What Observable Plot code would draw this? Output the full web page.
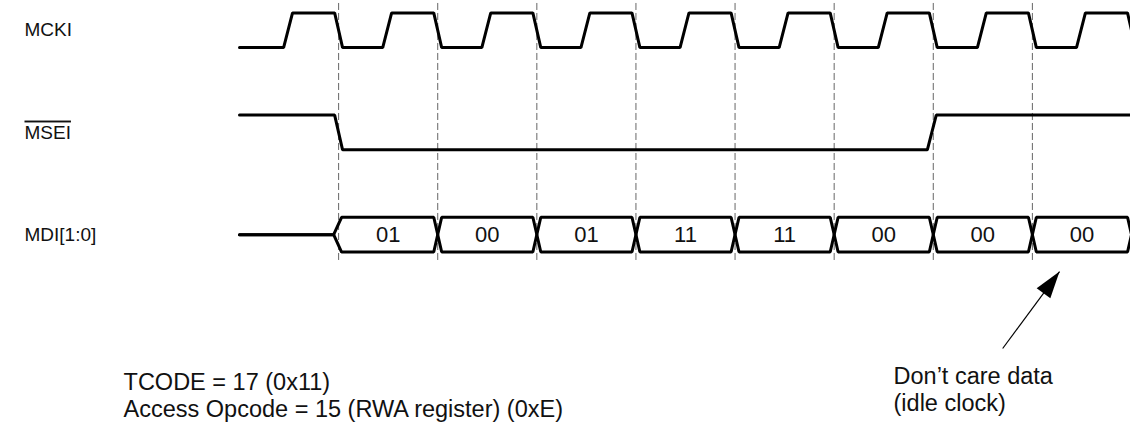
<!DOCTYPE html>
<html>
<head>
<meta charset="utf-8">
<script src="https://cdn.jsdelivr.net/npm/d3@7"></script>
<script src="https://cdn.jsdelivr.net/npm/@observablehq/plot@0.6"></script>
<style>
  html, body { margin: 0; padding: 0; background: #fff; }
  #chart svg { display: block; }
</style>
</head>
<body>
<div id="chart"></div>
<script>
// ---------- data (time in clock cycles, lanes by signal index) ----------
const signals = ["MCKI", "MSEI", "MDI[1:0]"];
const mckiRise = [0.49, 1.49, 2.49, 3.49, 4.49, 5.49, 6.49, 7.49, 8.49];
const mckiFall = [1, 2, 3, 4, 5, 6, 7, 8, 9];
const mseiFall = [1];
const mseiRise = [6.985];
const mdiStart = [1, 2, 3, 4, 5, 6, 7, 8];
const mdiValues = ["01", "00", "01", "11", "11", "00", "00", "00"];
const cycleMarks = [1, 2, 3, 4, 5, 6, 7, 8];
const notes = ["TCODE = 17 (0x11)", "Access Opcode = 15 (RWA register) (0xE)"];
const arrowNote = ["Don\u2019t care data", "(idle clock)"];
const arrowFrom = {t: 7.70, lane: 3.114};
const arrowTo = {t: 8.274, lane: 2.361};

// ---------- layout ----------
const W = 1130, H = 427;
const tMax = 9, xLeft = 239, xRight = 1131;
const laneTop = 29.75, laneStep = 102.2;
const amp = 0.17;           // half-height of a waveform, in lane units
const riseW = 0.09, fallW = 0.08, busW = 0.04;
const font = "'Liberation Sans', Arial, Helvetica, sans-serif";

function waveform(lane, startHigh, rises, falls) {
  const edges = [...rises.map(t => ({t, hi: true, w: riseW})),
                 ...falls.map(t => ({t, hi: false, w: fallW}))].sort((a, b) => a.t - b.t);
  const lvl = hi => lane + (hi ? -amp : amp);
  let hi = startHigh;
  const pts = [{t: 0, y: lvl(hi)}];
  for (const e of edges) {
    pts.push({t: e.t - e.w / 2, y: lvl(hi)});
    hi = e.hi;
    pts.push({t: e.t + e.w / 2, y: lvl(hi)});
  }
  pts.push({t: tMax + 0.2, y: lvl(hi)});
  return pts;
}

const mcki = waveform(0, false, mckiRise, mckiFall);
const msei = waveform(1, true, mseiRise, mseiFall);

// bus: two complementary polylines forming the X crossings
const busLane = 2;
const bus = [];
[-1, 1].forEach((sign, id) => {
  bus.push({id, t: 0, y: busLane});
  bus.push({id, t: mdiStart[0] - busW - 0.01, y: busLane});
  let s = sign;
  bus.push({id, t: mdiStart[0] + busW - 0.01, y: busLane + s * amp});
  const bounds = [...mdiStart.slice(1), mdiStart[mdiStart.length - 1] + 1];
  for (const k of bounds) {
    bus.push({id, t: k - busW, y: busLane + s * amp});
    s = -s;
    bus.push({id, t: k + busW, y: busLane + s * amp});
  }
});

const tScale = (xRight - xLeft) / tMax;
const angle = Math.atan2((arrowTo.t - arrowFrom.t) * tScale,
                         -(arrowTo.lane - arrowFrom.lane) * laneStep) * 180 / Math.PI;
const arrowHead = {
  draw(ctx) {
    ctx.moveTo(0, 0);
    ctx.lineTo(-8.5, 27);
    ctx.lineTo(8.5, 27);
    ctx.closePath();
  }
};

const plot = Plot.plot({
  width: W,
  height: H,
  margin: 0,
  style: {fontFamily: font, background: "#fff", color: "#000"},
  x: {domain: [0, tMax], range: [xLeft, xRight], axis: null},
  y: {domain: [-laneTop / laneStep, (H - laneTop) / laneStep], range: [0, H], axis: null},
  marks: [
    Plot.ruleX(cycleMarks, {x: d => d, y1: -0.262, y2: 2.253, stroke: "#666", strokeWidth: 1, strokeDasharray: "7,3"}),
    Plot.line(mcki, {x: "t", y: "y", stroke: "#000", strokeWidth: 3, strokeLinejoin: "miter", clip: true}),
    Plot.line(msei, {x: "t", y: "y", stroke: "#000", strokeWidth: 3, strokeLinejoin: "miter", clip: true}),
    Plot.line(bus, {x: "t", y: "y", z: "id", stroke: "#000", strokeWidth: 3, strokeLinejoin: "miter", clip: true}),
    Plot.text(mdiValues, {x: (d, i) => mdiStart[i] + 0.5, y: busLane, text: d => d, fontSize: 22, fill: "#111"}),
    Plot.text(signals, {frameAnchor: "left", dx: 24, y: (d, i) => i, text: d => d, textAnchor: "start", fontSize: 19, fill: "#111"}),
    Plot.text([notes.join("\n")], {x: -1.17, y: 3.569, text: d => d, textAnchor: "start", fontSize: 23.5, lineHeight: 1.15, fill: "#111"}),
    Plot.text([arrowNote.join("\n")], {x: 6.599, y: 3.505, text: d => d, textAnchor: "start", fontSize: 23.5, lineHeight: 1.15, fill: "#111"}),
    Plot.link([arrowFrom], {x1: "t", y1: "lane", x2: () => arrowTo.t, y2: () => arrowTo.lane, stroke: "#000", strokeWidth: 1.2}),
    Plot.dot([arrowTo], {x: "t", y: "lane", symbol: arrowHead, rotate: angle, fill: "#000", stroke: "none"})
  ]
});

plot.querySelectorAll("text").forEach(t => {
  if (t.textContent === "MSEI") t.style.textDecoration = "overline";
});
document.getElementById("chart").appendChild(plot);
</script>
</body>
</html>
